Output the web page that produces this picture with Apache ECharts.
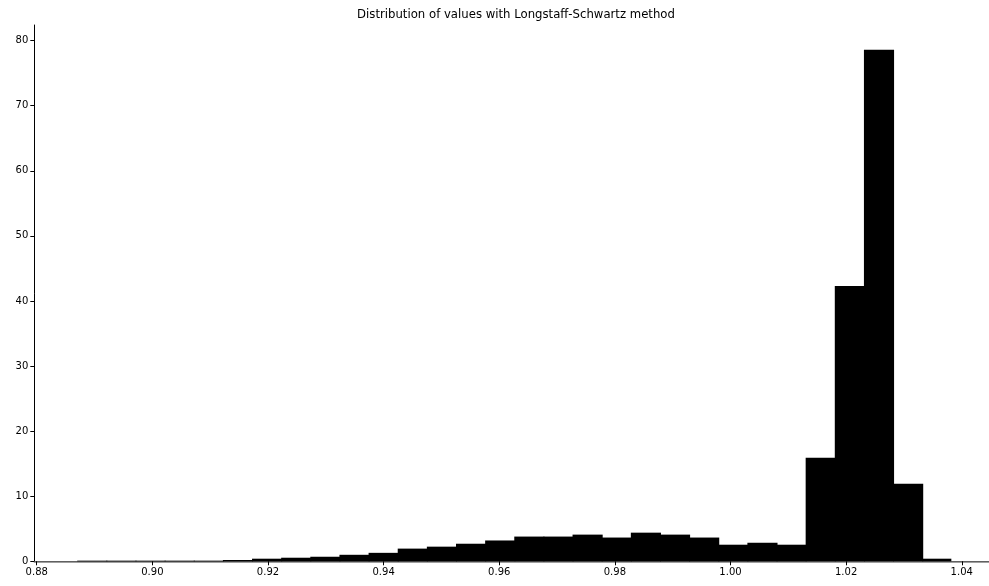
<!DOCTYPE html>
<html>
<head>
<meta charset="utf-8">
<script src="https://cdn.jsdelivr.net/npm/echarts@6/dist/echarts.min.js"></script>
<style>
  html, body { margin: 0; padding: 0; background: #fff; overflow: hidden; }
  /* the original figure is cropped on the right, so the canvas runs a bit past the window */
  #chart { width: 996px; height: 586px; }
</style>
</head>
<body>
<div id="chart"></div>
<script>
// histogram: 30 bins, density values
const binStart = 0.8870;
const binWidth = 0.00504;
const density = [
    0.1, 0.1, 0.1, 0.1, 0.1,
    0.2, 0.4, 0.55, 0.7, 1.0,
    1.3, 1.95, 2.25, 2.7, 3.2,
    3.8, 3.8, 4.1, 3.65, 4.4,
    4.1, 3.65, 2.55, 2.85, 2.55,
    15.9, 42.3, 78.6, 11.9, 0.4
];
const xTicks = [0.88, 0.90, 0.92, 0.94, 0.96, 0.98, 1.00, 1.02, 1.04];
const yTicks = [0, 10, 20, 30, 40, 50, 60, 70, 80];

const bins = density.map((d, i) => [binStart + i * binWidth, binStart + (i + 1) * binWidth, d]);

const chart = echarts.init(document.getElementById('chart'));

const font = 'DejaVu Sans';
const xMin = 0.87958, xMax = 1.04575;

chart.setOption({
    animation: false,
    title: {
        text: 'Distribution of values with Longstaff-Schwartz method',
        left: 511,
        textAlign: 'center',
        top: 4,
        textStyle: { fontFamily: font, fontSize: 11.7, fontWeight: 'normal', color: '#000' }
    },
    grid: { left: 34.3, width: 960.7, top: 25, bottom: 24.7 },
    xAxis: [{
        type: 'value',
        min: xMin,
        max: xMax,
        axisLine: { show: true, onZero: false, lineStyle: { color: '#000', width: 1 } },
        axisTick: { show: true, customValues: xTicks, length: 4, lineStyle: { color: '#000' } },
        axisLabel: {
            customValues: xTicks,
            margin: 6,
            fontFamily: font, fontSize: 10, color: '#000',
            formatter: v => v.toFixed(2)
        },
        splitLine: { show: false }
    }, {
        type: 'value',
        position: 'top',
        min: xMin,
        max: xMax,
        axisLine: { show: true, lineStyle: { color: '#808080', width: 1.5 } },
        axisTick: { show: false },
        axisLabel: { show: false },
        splitLine: { show: false }
    }],
    yAxis: {
        type: 'value',
        min: 0,
        max: 82.4,
        axisLine: { show: true, lineStyle: { color: '#000', width: 1 } },
        axisTick: { show: true, customValues: yTicks, length: 4, lineStyle: { color: '#000' } },
        axisLabel: {
            customValues: yTicks,
            margin: 6,
            fontFamily: font, fontSize: 10, color: '#000'
        },
        splitLine: { show: false }
    },
    series: [{
        type: 'custom',
        data: bins,
        encode: { x: [0, 1], y: 2 },
        renderItem: function (params, api) {
            const p0 = api.coord([api.value(0), api.value(2)]);
            const p1 = api.coord([api.value(1), 0]);
            // overlap neighbours by a pixel so no seams show between bins
            const w = p1[0] - p0[0] + (params.dataIndex < density.length - 1 ? 1 : 0);
            return {
                type: 'rect',
                shape: { x: p0[0], y: p0[1], width: w, height: p1[1] - p0[1] },
                style: { fill: '#000' }
            };
        }
    }]
});
</script>
</body>
</html>
